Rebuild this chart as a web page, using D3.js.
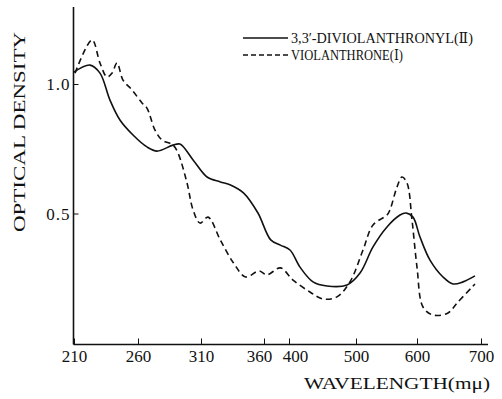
<!DOCTYPE html>
<html>
<head>
<meta charset="utf-8">
<script src="https://cdn.jsdelivr.net/npm/d3@7"></script>
<style>
  html, body { margin: 0; padding: 0; background: #fff; }
  svg { display: block; }
  text { font-family: "Liberation Serif", "DejaVu Serif", serif; fill: #111; }
</style>
</head>
<body>
<svg id="chart" width="502" height="399"></svg>
<script>
// Wavelength ticks (mμ); the axis is drawn with a change of scale between 360 and 400
const xTicks = [210, 260, 310, 360, 400, 500, 600, 700];
const yTicks = [0.5, 1.0];
const yTickLabels = ["0.5", "1.0"];

// 3,3'-Diviolanthronyl (II): wavelength and optical density
const diviolWl = [210, 222.5, 230.3, 238.1, 245.9, 256.1, 267.1, 275.1, 287.8, 293.3, 303.7, 314.8, 325.3, 333.4, 343.9, 355.2, 370.8, 386.2, 401.5, 416.4, 435.8, 456.7, 486.6, 506.6, 527.9, 550.8, 572.1, 581.9, 593.4, 604.7, 620.3, 640.6, 656.3, 671.9, 690.6];
const diviolOD = [1.046, 1.073, 1.042, 0.938, 0.861, 0.803, 0.757, 0.741, 0.764, 0.768, 0.707, 0.641, 0.622, 0.610, 0.579, 0.502, 0.398, 0.378, 0.359, 0.293, 0.236, 0.220, 0.224, 0.270, 0.371, 0.448, 0.494, 0.502, 0.486, 0.409, 0.320, 0.255, 0.228, 0.236, 0.259];

// Violanthrone (I)
const violWl = [210.8, 224.1, 230.3, 235.8, 239.7, 243.6, 248.3, 255.3, 263.2, 267.1, 273.5, 279.0, 287.8, 291.7, 298.9, 303.7, 309.2, 315.6, 325.3, 335.8, 345.5, 356.0, 364.6, 386.2, 406.0, 431.3, 450.7, 471.6, 491.0, 511.5, 527.9, 550.8, 555.7, 567.2, 575.4, 583.6, 591.8, 600, 609.4, 625.0, 648.4, 662.5, 690.6];
const violOD = [1.042, 1.170, 1.081, 1.027, 1.042, 1.081, 1.015, 0.977, 0.927, 0.907, 0.822, 0.784, 0.764, 0.734, 0.618, 0.514, 0.463, 0.486, 0.398, 0.309, 0.255, 0.278, 0.263, 0.290, 0.243, 0.197, 0.170, 0.178, 0.236, 0.359, 0.456, 0.494, 0.514, 0.602, 0.641, 0.618, 0.475, 0.293, 0.139, 0.108, 0.116, 0.154, 0.228];

const seriesNames = ["3,3\u2032-DIVIOLANTHRONYL(\u2161)", "VIOLANTHRONE(\u2160)"];

const svg = d3.select("#chart");

// piecewise-linear wavelength axis
const x = d3.scaleLinear()
  .domain(xTicks)
  .range([74, 138, 201, 264, 289, 356, 417, 481]);

const y = d3.scaleLinear().domain([0, 1]).range([343, 84]);

const axisLeft = 73.5, axisBottom = 344.5;

// axes lines
svg.append("line")
  .attr("x1", axisLeft).attr("x2", axisLeft)
  .attr("y1", 7).attr("y2", axisBottom)
  .attr("stroke", "#111").attr("stroke-width", 1.6);
svg.append("line")
  .attr("x1", axisLeft).attr("x2", 488)
  .attr("y1", axisBottom).attr("y2", axisBottom)
  .attr("stroke", "#111").attr("stroke-width", 1.4);

// x ticks point up into the plot; the two close labels are nudged apart
const labelNudge = { 360: -5, 400: 6 };
const xAxis = d3.axisBottom(x).tickValues(xTicks).tickSize(0).tickPadding(0).tickFormat(d3.format("d"));
const gx = svg.append("g").attr("transform", `translate(0,${axisBottom})`).call(xAxis);
gx.select(".domain").remove();
gx.selectAll(".tick line").attr("y1", 0).attr("y2", -6).attr("stroke", "#111").attr("stroke-width", 1);
gx.selectAll(".tick text")
  .attr("y", 17).attr("dy", null)
  .attr("x", d => labelNudge[d] || 0)
  .style("font-family", "'Liberation Serif', serif")
  .style("font-size", "17px").attr("fill", "#111");

// y ticks point right into the plot
const yAxis = d3.axisLeft(y).tickValues(yTicks).tickSize(0).tickPadding(0)
  .tickFormat((d, i) => yTickLabels[i]);
const gy = svg.append("g").attr("transform", `translate(${axisLeft},0)`).call(yAxis);
gy.select(".domain").remove();
gy.selectAll(".tick line").attr("x1", 0).attr("x2", 5).attr("stroke", "#111").attr("stroke-width", 1);
gy.selectAll(".tick text")
  .attr("x", -3).attr("dy", "0.35em")
  .style("font-family", "'Liberation Serif', serif")
  .style("font-size", "17px").attr("fill", "#111")
  .attr("letter-spacing", "1px");

// axis titles
svg.append("text")
  .attr("transform", "translate(25,132) rotate(-90)")
  .attr("text-anchor", "middle")
  .style("font-size", "17px")
  .attr("textLength", 200).attr("lengthAdjust", "spacingAndGlyphs")
  .text("OPTICAL DENSITY");

svg.append("text")
  .attr("x", 490).attr("y", 389)
  .attr("text-anchor", "end")
  .style("font-size", "16px")
  .attr("textLength", 186).attr("lengthAdjust", "spacingAndGlyphs")
  .text("WAVELENGTH(m\u03bc)");

// curves
const line = d3.line()
  .x(d => x(d[0]))
  .y(d => y(d[1]))
  .curve(d3.curveCatmullRom.alpha(0.5));

const diviol = diviolWl.map((w, i) => [w, diviolOD[i]]);
const viol = violWl.map((w, i) => [w, violOD[i]]);

svg.append("path")
  .datum(diviol)
  .attr("d", line)
  .attr("fill", "none").attr("stroke", "#111").attr("stroke-width", 1.6);

svg.append("path")
  .datum(viol)
  .attr("d", line)
  .attr("fill", "none").attr("stroke", "#111").attr("stroke-width", 1.6)
  .attr("stroke-dasharray", "6,4");

// legend
const legend = svg.append("g");
const legendRows = [
  { y: 38, dash: null, label: seriesNames[0], len: 182 },
  { y: 55, dash: "5,3", label: seriesNames[1], len: 112 }
];
legendRows.forEach(r => {
  legend.append("line")
    .attr("x1", 243).attr("x2", 288)
    .attr("y1", r.y).attr("y2", r.y)
    .attr("stroke", "#111").attr("stroke-width", 1.4)
    .attr("stroke-dasharray", r.dash);
  legend.append("text")
    .attr("x", 291).attr("y", r.y + 5)
    .style("font-size", "14px")
    .attr("textLength", r.len).attr("lengthAdjust", "spacingAndGlyphs")
    .text(r.label);
});
</script>
</body>
</html>
